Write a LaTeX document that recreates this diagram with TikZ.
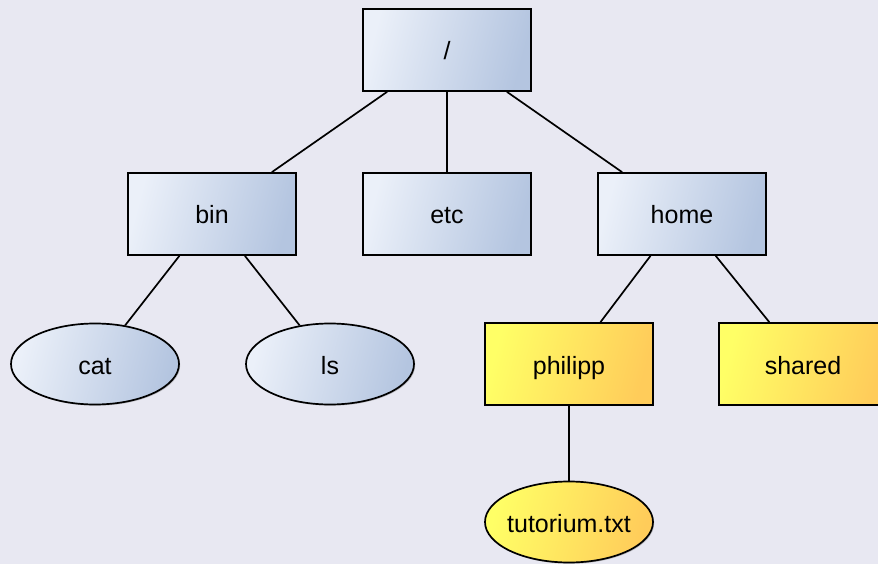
\documentclass[tikz,border=0pt]{standalone}
\usepackage{fontspec}
\setmainfont{Liberation Sans}
\usetikzlibrary{shapes.geometric,shadows}
\definecolor{bgc}{HTML}{E8E8F2}
\definecolor{bluelight}{HTML}{EBF0F9}
\definecolor{bluedark}{HTML}{B4C5E0}
\definecolor{yellight}{HTML}{FFFF66}
\definecolor{yeldark}{HTML}{FFCC5A}
\tikzset{
  base/.style={draw=black, line width=1.7pt, inner sep=0pt, font=\fontsize{25}{29}\selectfont,
    text height=22pt, text depth=2pt,
    drop shadow={shadow xshift=1.2pt, shadow yshift=-1.2pt, opacity=0.35, fill=black!60}},
  bluefill/.style={top color=bluelight, bottom color=bluedark, shading angle=75},
  yelfill/.style={top color=yellight, bottom color=yeldark, shading angle=75},
  dirbox/.style={base, rectangle, minimum width=168pt, minimum height=82pt},
  filell/.style={base, ellipse, inner xsep=-25pt, minimum width=168pt, minimum height=81pt},
  edge/.style={draw=black, line width=1.7pt}
}
\begin{document}
\begin{tikzpicture}[x=1pt,y=-1pt]
\fill[bgc] (0,0) rectangle (878,564);
\useasboundingbox (0,0) rectangle (878,564);
\clip (0,0) rectangle (878,564);
\node[dirbox, bluefill] (root) at (447,50) {/};
\node[dirbox, bluefill] (bin) at (212,214) {bin};
\node[dirbox, bluefill] (etc) at (447,214) {etc};
\node[dirbox, bluefill] (home) at (682,214) {home};
\node[filell, bluefill] (cat) at (95,364) {cat};
\node[filell, bluefill] (ls) at (330,364) {ls};
\node[dirbox, yelfill] (philipp) at (569,364) {philipp};
\node[dirbox, yelfill] (shared) at (803,364) {shared};
\node[filell, yelfill] (tut) at (569,522) {tutorium.txt};
\draw[edge] (root) -- (bin);
\draw[edge] (root) -- (etc);
\draw[edge] (root) -- (home);
\draw[edge] (bin) -- (cat);
\draw[edge] (bin) -- (ls);
\draw[edge] (home) -- (philipp);
\draw[edge] (home) -- (shared);
\draw[edge] (philipp) -- (tut);
\end{tikzpicture}
\end{document}
